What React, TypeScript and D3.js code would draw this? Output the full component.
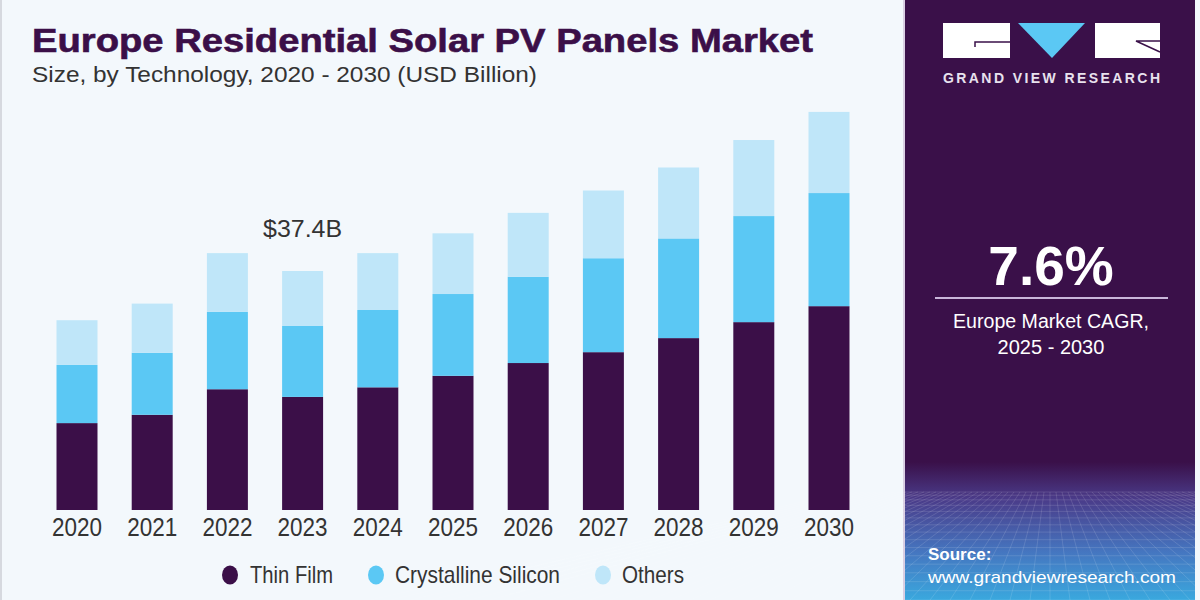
import React, { useEffect, useRef } from "react";
import * as d3 from "d3";

// chart data (USD Billion)
const years = ["2020", "2021", "2022", "2023", "2024", "2025", "2026", "2027", "2028", "2029", "2030"];
const thinFilm = [13.6, 14.9, 18.9, 17.7, 19.2, 21.0, 23.0, 24.7, 26.9, 29.4, 31.9];
const crystallineSilicon = [9.1, 9.7, 12.1, 11.1, 12.1, 12.8, 13.5, 14.7, 15.6, 16.6, 17.7];
const others = [7.0, 7.7, 9.2, 8.6, 8.9, 9.5, 10.0, 10.6, 11.1, 11.9, 12.7];
const seriesNames = ["Thin Film", "Crystalline Silicon", "Others"];
const seriesColors = ["#3b0f48", "#5bc8f4", "#bfe6f9"];
const highlightYear = "2023";
const highlightLabel = "$37.4B";

const W = 1200;
const H = 600;
const sans = "'Liberation Sans', Arial, sans-serif";

const App = () => {
  const ref = useRef<SVGSVGElement | null>(null);

  useEffect(() => {
    const svg = d3.select(ref.current);
    svg.selectAll("*").remove();

    const defs = svg.append("defs");
    const grad = defs
      .append("linearGradient")
      .attr("id", "panelGrad")
      .attr("x1", 0)
      .attr("y1", 0)
      .attr("x2", 0)
      .attr("y2", 1);
    grad.append("stop").attr("offset", "0").attr("stop-color", "#3a1049");
    grad.append("stop").attr("offset", "0.77").attr("stop-color", "#3a1049");
    grad.append("stop").attr("offset", "0.83").attr("stop-color", "#4a3a88");
    grad.append("stop").attr("offset", "0.92").attr("stop-color", "#4576c0");
    grad.append("stop").attr("offset", "1").attr("stop-color", "#3aa8de");

    // backgrounds
    svg.append("rect").attr("width", W).attr("height", H).attr("fill", "#f3f8fc");
    svg.append("rect").attr("width", 2).attr("height", H).attr("fill", "#d6d9df");
    svg.append("rect").attr("x", 903).attr("width", 2).attr("height", H).attr("fill", "#d9cfe3");
    svg.append("rect").attr("x", 905).attr("width", 290).attr("height", H).attr("fill", "url(#panelGrad)");

    // perspective mesh at the bottom of the panel
    const mesh = svg.append("g").attr("stroke", "#ffffff").attr("stroke-opacity", 0.16).attr("stroke-width", 0.8);
    const vx = 1050;
    const horizon = 492;
    for (let i = -34; i <= 34; i++) {
      mesh.append("line").attr("x1", vx + i * 6).attr("y1", horizon).attr("x2", vx + i * 20).attr("y2", H);
    }
    for (let k = 0; k < 16; k++) {
      const yy = horizon + (H - horizon) * Math.pow(k / 15, 1.3);
      mesh.append("line").attr("x1", 905).attr("x2", 1195).attr("y1", yy).attr("y2", yy);
    }
    svg.append("rect").attr("x", 1195).attr("width", 5).attr("height", H).attr("fill", "#f3f8fc");

    // title
    svg
      .append("text")
      .attr("x", 32)
      .attr("y", 52)
      .attr("font-family", sans)
      .attr("font-weight", 900)
      .attr("font-size", 33)
      .attr("fill", "#3b0f48")
      .attr("stroke", "#3b0f48")
      .attr("stroke-width", 0.6)
      .attr("textLength", 781)
      .attr("lengthAdjust", "spacingAndGlyphs")
      .text("Europe Residential Solar PV Panels Market");
    svg
      .append("text")
      .attr("x", 32)
      .attr("y", 82)
      .attr("font-family", sans)
      .attr("font-size", 22)
      .attr("fill", "#333333")
      .attr("textLength", 505)
      .attr("lengthAdjust", "spacingAndGlyphs")
      .text("Size, by Technology, 2020 - 2030 (USD Billion)");

    // scales
    const x = d3.scaleBand<string>().domain(years).range([39.4, 866.6]).paddingInner(0.455).paddingOuter(0.2275);
    const y = d3.scaleLinear().domain([0, 70]).range([510, 510 - 70 * 6.39]);

    const rows = years.map((yr, i) => ({
      year: yr,
      "Thin Film": thinFilm[i],
      "Crystalline Silicon": crystallineSilicon[i],
      Others: others[i],
    }));
    const stacked = d3.stack<any>().keys(seriesNames)(rows);

    svg
      .append("g")
      .selectAll("g")
      .data(stacked)
      .join("g")
      .attr("fill", (_, i) => seriesColors[i])
      .selectAll("rect")
      .data((d) => d)
      .join("rect")
      .attr("x", (d) => x(d.data.year) as number)
      .attr("width", x.bandwidth())
      .attr("y", (d) => y(d[1]))
      .attr("height", (d) => y(d[0]) - y(d[1]));

    // value label
    const hi = years.indexOf(highlightYear);
    const total = thinFilm[hi] + crystallineSilicon[hi] + others[hi];
    svg
      .append("text")
      .attr("x", (x(highlightYear) as number) + x.bandwidth() / 2)
      .attr("y", y(total) - 34)
      .attr("text-anchor", "middle")
      .attr("font-family", sans)
      .attr("font-size", 23)
      .attr("fill", "#333333")
      .attr("textLength", 79)
      .attr("lengthAdjust", "spacingAndGlyphs")
      .text(highlightLabel);

    // year labels
    svg
      .append("g")
      .selectAll("text")
      .data(years)
      .join("text")
      .attr("x", (d) => (x(d) as number) + x.bandwidth() / 2)
      .attr("y", 536)
      .attr("text-anchor", "middle")
      .attr("font-family", sans)
      .attr("font-size", 26)
      .attr("fill", "#333333")
      .attr("textLength", 50)
      .attr("lengthAdjust", "spacingAndGlyphs")
      .text((d) => d);

    // legend
    const legendItems = [
      { cx: 230, tx: 250, w: 83 },
      { cx: 376, tx: 395, w: 165 },
      { cx: 603, tx: 622, w: 62 },
    ];
    const lg = svg.append("g");
    seriesNames.forEach((name, i) => {
      const it = legendItems[i];
      lg.append("ellipse").attr("cx", it.cx).attr("cy", 575).attr("rx", 8).attr("ry", 9.5).attr("fill", seriesColors[i]);
      lg.append("text")
        .attr("x", it.tx)
        .attr("y", 583)
        .attr("font-family", sans)
        .attr("font-size", 24)
        .attr("fill", "#333333")
        .attr("textLength", it.w)
        .attr("lengthAdjust", "spacingAndGlyphs")
        .text(name);
    });

    // logo
    const logo = svg.append("g");
    logo.append("rect").attr("x", 943).attr("y", 23).attr("width", 67).attr("height", 35).attr("fill", "#ffffff");
    logo.append("path").attr("d", "M975,47 V42 H1010").attr("fill", "none").attr("stroke", "#3a1049").attr("stroke-width", 1.5);
    logo.append("path").attr("d", "M1018,23 H1085 L1052,58 Z").attr("fill", "#5bc8f4");
    logo.append("rect").attr("x", 1095).attr("y", 23).attr("width", 65).attr("height", 35).attr("fill", "#ffffff");
    logo.append("path").attr("d", "M1160,41 H1136 L1160,52").attr("fill", "none").attr("stroke", "#3a1049").attr("stroke-width", 1.5);
    svg
      .append("text")
      .attr("x", 943)
      .attr("y", 83)
      .attr("font-family", sans)
      .attr("font-weight", "bold")
      .attr("font-size", 14)
      .attr("fill", "#e8e2ee")
      .attr("textLength", 217)
      .attr("lengthAdjust", "spacing")
      .text("GRAND VIEW RESEARCH");

    // CAGR block
    svg
      .append("text")
      .attr("x", 1051)
      .attr("y", 285)
      .attr("text-anchor", "middle")
      .attr("font-family", sans)
      .attr("font-weight", "bold")
      .attr("font-size", 55)
      .attr("fill", "#ffffff")
      .text("7.6%");
    svg
      .append("line")
      .attr("x1", 935)
      .attr("x2", 1168)
      .attr("y1", 298)
      .attr("y2", 298)
      .attr("stroke", "#c9b6da")
      .attr("stroke-width", 2);
    svg
      .append("text")
      .attr("x", 1051)
      .attr("y", 328)
      .attr("text-anchor", "middle")
      .attr("font-family", sans)
      .attr("font-size", 20)
      .attr("fill", "#ffffff")
      .attr("textLength", 196)
      .attr("lengthAdjust", "spacingAndGlyphs")
      .text("Europe Market CAGR,");
    svg
      .append("text")
      .attr("x", 1051)
      .attr("y", 354)
      .attr("text-anchor", "middle")
      .attr("font-family", sans)
      .attr("font-size", 20)
      .attr("fill", "#ffffff")
      .text("2025 - 2030");

    // source
    svg
      .append("text")
      .attr("x", 928)
      .attr("y", 560)
      .attr("font-family", sans)
      .attr("font-weight", "bold")
      .attr("font-size", 17)
      .attr("fill", "#ffffff")
      .text("Source:");
    svg
      .append("text")
      .attr("x", 928)
      .attr("y", 583)
      .attr("font-family", sans)
      .attr("font-size", 17)
      .attr("fill", "#ffffff")
      .attr("textLength", 248)
      .attr("lengthAdjust", "spacingAndGlyphs")
      .text("www.grandviewresearch.com");
  }, []);

  return (
    <svg
      ref={ref}
      width={W}
      height={H}
      style={{ position: "absolute", left: 0, top: 0, display: "block" }}
    />
  );
};

export default App;
